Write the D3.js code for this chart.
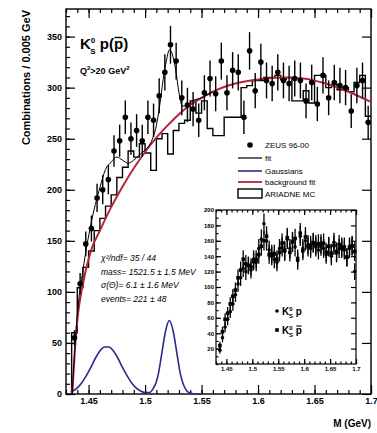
<!DOCTYPE html>
<html>
<head>
<meta charset="utf-8">
<script src="https://cdn.jsdelivr.net/npm/d3@7"></script>
<style>
  body { margin: 0; background: #fff; }
  svg { display: block; font-family: "Liberation Sans", Arial, sans-serif; }
  .axis path, .axis line { stroke: #000; stroke-width: 1.2; }
  .axis text { font-weight: bold; fill: #000; }
</style>
</head>
<body>
<svg width="377" height="433"></svg>
<script>
// bin centres of the 5 MeV mass bins (GeV)
const binCentres = [1.4375, 1.4425, 1.4475, 1.4525, 1.4575, 1.4625, 1.4675, 1.4725, 1.4775, 1.4825,
  1.4875, 1.4925, 1.4975, 1.5025, 1.5075, 1.5125, 1.5175, 1.5225, 1.5275, 1.5325,
  1.5375, 1.5425, 1.5475, 1.5525, 1.5575, 1.5625, 1.5675, 1.5725, 1.5775, 1.5825,
  1.5875, 1.5925, 1.5975, 1.6025, 1.6075, 1.6125, 1.6175, 1.6225, 1.6275, 1.6325,
  1.6375, 1.6425, 1.6475, 1.6525, 1.6575, 1.6625, 1.6675, 1.6725, 1.6775, 1.6825,
  1.6875, 1.6925, 1.6975];

// ZEUS data, combinations per bin
const zeusCounts = [55, 108, 147, 162, 192, 200, 210, 238, 248, 271,
  250, 258, 248, 271, 268, 292, 315, 342, 326, 290,
  283, 279, 268, 295, 309, 294, 326, 295, 317, 315,
  271, 336, 297, 325, 307, 304, 315, 307, 304, 309,
  307, 287, 305, 284, 312, 290, 305, 302, 300, 277,
  302, 307, 266];

// ARIADNE MC histogram (normalised)
const mcCounts = [60, 104, 124, 140, 160, 172, 184, 195, 212, 222,
  238, 232, 245, 236, 219, 250, 255, 235, 258, 265,
  268, 287, 275, 287, 260, 253, 253, 271, 271, 271,
  300, 302, 307, 307, 310, 310, 312, 308, 310, 287,
  287, 297, 285, 312, 312, 300, 303, 298, 300, 296,
  305, 312, 272];

// background curve
const bkgMass = [1.4355, 1.438, 1.440, 1.445, 1.452, 1.460, 1.470, 1.480, 1.490, 1.500, 1.510,
  1.520, 1.530, 1.540, 1.550, 1.560, 1.580, 1.600, 1.620, 1.640, 1.660, 1.680, 1.700];
const bkgValues = [0, 45, 72, 108, 140, 160, 183, 203, 221, 237, 251,
  263, 274, 283, 290, 296, 304, 308, 310, 309, 304, 296, 286];

// two gaussians (blue)
const gausMass = [1.434, 1.436, 1.440, 1.444, 1.448, 1.452, 1.456, 1.460, 1.464, 1.468, 1.472,
  1.476, 1.480, 1.484, 1.488, 1.492, 1.496, 1.500, 1.504, 1.507, 1.510, 1.512, 1.515,
  1.518, 1.5215, 1.525, 1.528, 1.531, 1.534, 1.537, 1.540, 1.545, 1.550];
const gausValues = [2, 3, 6, 11, 18, 26, 35, 42, 46, 46, 42,
  35, 26, 18, 11, 6, 3, 1.5, 1.5, 5, 12, 21, 41,
  61, 72, 61, 41, 21, 9, 3, 1, 0, 0];

// full fit = background + gaussians
const fitMass = [1.4355, 1.438, 1.440, 1.445, 1.452, 1.460, 1.465, 1.470, 1.475, 1.480, 1.485,
  1.490, 1.495, 1.500, 1.505, 1.510, 1.513, 1.516, 1.519, 1.5215, 1.524, 1.527, 1.530,
  1.533, 1.537, 1.542, 1.550, 1.560];
const fitValues = [0, 48, 78, 121, 166, 202, 220, 227, 232, 229, 226,
  229, 234, 239, 246, 263, 283, 308, 327, 337, 333, 318, 295,
  282, 282, 287, 290, 296];

// inset: K0s p and K0s pbar separately
const insetP = [18, 34, 48, 58, 68, 78, 90, 104, 112, 124,
  120, 128, 122, 136, 132, 150, 162, 182, 160, 148,
  140, 136, 132, 150, 152, 146, 162, 150, 158, 152,
  134, 166, 150, 160, 155, 150, 158, 152, 148, 156,
  150, 142, 152, 140, 158, 144, 150, 152, 148, 138,
  150, 154, 120];
const insetPbar = [24, 42, 58, 66, 78, 88, 96, 112, 122, 136,
  130, 128, 126, 133, 136, 142, 153, 160, 166, 142,
  143, 143, 136, 145, 157, 148, 164, 145, 159, 163,
  137, 170, 147, 165, 152, 154, 157, 155, 156, 153,
  157, 145, 153, 144, 154, 146, 155, 150, 152, 139,
  152, 153, 146];

// tick values and labels
const xMajor = [1.45, 1.5, 1.55, 1.6, 1.65, 1.7];
const xTickLabels = ['1.45', '1.5', '1.55', '1.6', '1.65', '1.7'];
const yMajor = [0, 50, 100, 150, 200, 250, 300, 350];
const insetYMajor = [20, 40, 60, 80, 100, 120, 140, 160, 180, 200];

const annotation = ['\u03c7\u00b2/ndf= 35 / 44', 'mass= 1521.5 \u00b1 1.5 MeV',
  '\u03c3(\u0398)= 6.1 \u00b1 1.6 MeV', 'events= 221 \u00b1 48'];

const svg = d3.select('svg'),
    frame = { left: 66, right: 371, top: 9, bottom: 394 };

// main scales
const x = d3.scaleLinear().domain([1.43, 1.7]).range([frame.left, frame.right]);
const y = d3.scaleLinear().domain([0, 377]).range([frame.bottom, frame.top]);

const xMinor = d3.range(1.43, 1.7001, 0.01).map(d => +d.toFixed(3));
const yMinor = d3.range(0, 377, 10);

// axes, ticks inward
function drawAxes(g, xs, ys, fr, opt) {
  g.append('rect')
    .attr('x', fr.left).attr('y', fr.top)
    .attr('width', fr.right - fr.left).attr('height', fr.bottom - fr.top)
    .attr('fill', 'none').attr('stroke', '#000').attr('stroke-width', opt.frameW);

  // bottom
  g.append('g').attr('class', 'axis')
    .attr('transform', 'translate(0,' + fr.bottom + ')')
    .call(d3.axisBottom(xs).tickValues(opt.xMinor).tickSize(-opt.minorLen).tickFormat(''))
    .call(a => a.select('.domain').remove());
  g.append('g').attr('class', 'axis')
    .attr('transform', 'translate(0,' + fr.bottom + ')')
    .call(d3.axisBottom(xs).tickValues(opt.xMajor).tickSize(-opt.majorLen).tickPadding(opt.xPad)
      .tickFormat((d, i) => opt.xLabels[i]))
    .call(a => a.select('.domain').remove())
    .selectAll('text').attr('font-size', opt.font);
  // top
  g.append('g').attr('class', 'axis')
    .attr('transform', 'translate(0,' + fr.top + ')')
    .call(d3.axisTop(xs).tickValues(opt.xMinor).tickSize(-opt.minorLen).tickFormat(''))
    .call(a => a.select('.domain').remove());
  g.append('g').attr('class', 'axis')
    .attr('transform', 'translate(0,' + fr.top + ')')
    .call(d3.axisTop(xs).tickValues(opt.xMajor).tickSize(-opt.majorLen).tickFormat(''))
    .call(a => a.select('.domain').remove());
  // left
  g.append('g').attr('class', 'axis')
    .attr('transform', 'translate(' + fr.left + ',0)')
    .call(d3.axisLeft(ys).tickValues(opt.yMinor).tickSize(-opt.minorLen).tickFormat(''))
    .call(a => a.select('.domain').remove());
  g.append('g').attr('class', 'axis')
    .attr('transform', 'translate(' + fr.left + ',0)')
    .call(d3.axisLeft(ys).tickValues(opt.yMajor).tickSize(-opt.majorLen).tickPadding(opt.yPad))
    .call(a => a.select('.domain').remove())
    .selectAll('text').attr('font-size', opt.font);
  // right
  g.append('g').attr('class', 'axis')
    .attr('transform', 'translate(' + fr.right + ',0)')
    .call(d3.axisRight(ys).tickValues(opt.yMajor).tickSize(-opt.majorLen).tickFormat(''))
    .call(a => a.select('.domain').remove());
}

// bar over one character of a text element (for p-bar)
function overbar(textSel, charIndex, lift, width) {
  const node = textSel.node();
  const s = node.getStartPositionOfChar(charIndex);
  const e = node.getEndPositionOfChar(charIndex);
  d3.select(node.parentNode).append('line')
    .attr('x1', s.x + 0.5).attr('x2', e.x - 0.5)
    .attr('y1', s.y - lift).attr('y2', s.y - lift)
    .attr('stroke', '#000').attr('stroke-width', width);
}

const main = svg.append('g');
drawAxes(main, x, y, frame, {
  frameW: 1.4, xMinor: xMinor, xMajor: xMajor, xLabels: xTickLabels,
  yMinor: yMinor, yMajor: yMajor, minorLen: 4, majorLen: 9, font: 9, xPad: 4, yPad: 4
});

// ARIADNE histogram, step shape
const histPts = [[1.435, 0]];
binCentres.forEach((c, i) => {
  histPts.push([c - 0.0025, mcCounts[i]]);
  histPts.push([c + 0.0025, mcCounts[i]]);
});
main.append('path')
  .datum(histPts)
  .attr('fill', 'none').attr('stroke', '#000').attr('stroke-width', 1.4)
  .attr('d', d3.line().x(d => x(d[0])).y(d => y(d[1])).curve(d3.curveStepBefore));

// gaussians
main.append('path')
  .datum(gausMass.map((m, i) => [m, gausValues[i]]))
  .attr('fill', 'none').attr('stroke', '#2b2b8c').attr('stroke-width', 1.6)
  .attr('d', d3.line().x(d => x(d[0])).y(d => y(d[1])).curve(d3.curveMonotoneX));

// background
main.append('path')
  .datum(bkgMass.map((m, i) => [m, bkgValues[i]]))
  .attr('fill', 'none').attr('stroke', '#b3263a').attr('stroke-width', 2)
  .attr('d', d3.line().x(d => x(d[0])).y(d => y(d[1])).curve(d3.curveMonotoneX));

// full fit
main.append('path')
  .datum(fitMass.map((m, i) => [m, fitValues[i]]))
  .attr('fill', 'none').attr('stroke', '#000').attr('stroke-width', 1)
  .attr('d', d3.line().x(d => x(d[0])).y(d => y(d[1])).curve(d3.curveMonotoneX));

// data points with error bars
const pts = main.selectAll('.pt')
  .data(binCentres.map((c, i) => ({ m: c, v: zeusCounts[i] })))
  .enter().append('g').attr('class', 'pt');
pts.append('line')
  .attr('x1', d => x(d.m)).attr('x2', d => x(d.m))
  .attr('y1', d => y(d.v + Math.sqrt(d.v))).attr('y2', d => y(Math.max(0, d.v - Math.sqrt(d.v))))
  .attr('stroke', '#000').attr('stroke-width', 1.4);
pts.append('circle')
  .attr('cx', d => x(d.m)).attr('cy', d => y(d.v)).attr('r', 2.8)
  .attr('fill', '#000');

// axis titles
svg.append('text')
  .attr('transform', 'translate(30,10) rotate(-90)')
  .attr('text-anchor', 'end')
  .attr('font-size', 11).attr('font-weight', 'bold')
  .text('Combinations / 0.005 GeV');
svg.append('text')
  .attr('x', 371).attr('y', 427).attr('text-anchor', 'end')
  .attr('font-size', 10).attr('font-weight', 'bold')
  .text('M (GeV)');

// process label
const lab = svg.append('text').attr('x', 80).attr('y', 49)
  .attr('font-size', 15).attr('font-weight', 'bold');
lab.append('tspan').text('K');
lab.append('tspan').attr('font-size', 8).attr('dy', -6).text('0');
lab.append('tspan').attr('font-size', 8).attr('dx', -5).attr('dy', 11).text('S');
lab.append('tspan').attr('dy', -5).text(' p(p)');
overbar(lab, 6, 11.5, 1.4);

const q2 = svg.append('text').attr('x', 80).attr('y', 74)
  .attr('font-size', 9).attr('font-weight', 'bold');
q2.append('tspan').text('Q');
q2.append('tspan').attr('font-size', 6).attr('dy', -4).text('2');
q2.append('tspan').attr('dy', 4).text('>20 GeV');
q2.append('tspan').attr('font-size', 6).attr('dy', -4).text('2');

// fit result text
svg.selectAll('.ann')
  .data(annotation)
  .enter().append('text')
  .attr('x', 101).attr('y', (d, i) => 261 + i * 13.5)
  .attr('font-size', 8.5).attr('font-style', 'italic')
  .text(d => d);

// legend
const leg = svg.append('g').attr('font-size', 8);
leg.append('circle').attr('cx', 250).attr('cy', 145).attr('r', 2.8).attr('fill', '#000');
leg.append('text').attr('x', 265).attr('y', 148).text('ZEUS 96-00');
leg.append('line').attr('x1', 238).attr('x2', 262).attr('y1', 158).attr('y2', 158)
  .attr('stroke', '#000').attr('stroke-width', 1.2);
leg.append('text').attr('x', 265).attr('y', 161).text('fit');
leg.append('line').attr('x1', 238).attr('x2', 262).attr('y1', 171).attr('y2', 171)
  .attr('stroke', '#2b2b8c').attr('stroke-width', 1.6);
leg.append('text').attr('x', 265).attr('y', 174).text('Gaussians');
leg.append('line').attr('x1', 238).attr('x2', 262).attr('y1', 182).attr('y2', 182)
  .attr('stroke', '#b3263a').attr('stroke-width', 1.8);
leg.append('text').attr('x', 265).attr('y', 185).text('background fit');
leg.append('rect').attr('x', 238).attr('y', 189).attr('width', 24).attr('height', 9)
  .attr('fill', '#fff').attr('stroke', '#000').attr('stroke-width', 1.4);
leg.append('text').attr('x', 265).attr('y', 197).text('ARIADNE MC');

// inset
const ifr = { left: 216, right: 356, top: 210, bottom: 364 };
const xi = d3.scaleLinear().domain([1.43, 1.7]).range([ifr.left, ifr.right]);
const yi = d3.scaleLinear().domain([0, 200]).range([ifr.bottom, ifr.top]);
const inset = svg.append('g');
inset.append('rect').attr('x', ifr.left - 14).attr('y', ifr.top - 4)
  .attr('width', ifr.right - ifr.left + 18).attr('height', ifr.bottom - ifr.top + 20)
  .attr('fill', '#fff');
drawAxes(inset, xi, yi, ifr, {
  frameW: 1.2, xMinor: xMinor, xMajor: xMajor, xLabels: xTickLabels,
  yMinor: d3.range(0, 200, 10), yMajor: insetYMajor, minorLen: 2.5, majorLen: 5, font: 6, xPad: 3, yPad: 2
});

[insetPbar, insetP].forEach((series, s) => {
  const g = inset.append('g');
  binCentres.forEach((c, i) => {
    const v = series[i], e = Math.sqrt(v);
    g.append('line')
      .attr('x1', xi(c)).attr('x2', xi(c))
      .attr('y1', yi(v + e)).attr('y2', yi(Math.max(0, v - e)))
      .attr('stroke', '#000').attr('stroke-width', 1.3);
    if (s === 1) {
      g.append('circle').attr('cx', xi(c)).attr('cy', yi(v)).attr('r', 1.8).attr('fill', '#000');
    } else {
      g.append('rect').attr('x', xi(c) - 1.8).attr('y', yi(v) - 1.8)
        .attr('width', 3.6).attr('height', 3.6).attr('fill', '#000');
    }
  });
});

// inset legend
const il = svg.append('g').attr('font-size', 10).attr('font-weight', 'bold');
il.append('circle').attr('cx', 277).attr('cy', 311).attr('r', 1.8).attr('fill', '#000');
const t1 = il.append('text').attr('x', 282).attr('y', 315);
t1.append('tspan').text('K');
t1.append('tspan').attr('font-size', 6).attr('dy', -4).text('0');
t1.append('tspan').attr('font-size', 6).attr('dx', -3.5).attr('dy', 7).text('S');
t1.append('tspan').attr('dy', -3).text(' p');
il.append('rect').attr('x', 275.2).attr('y', 328.2).attr('width', 3.6).attr('height', 3.6).attr('fill', '#000');
const t2 = il.append('text').attr('x', 282).attr('y', 334);
t2.append('tspan').text('K');
t2.append('tspan').attr('font-size', 6).attr('dy', -4).text('0');
t2.append('tspan').attr('font-size', 6).attr('dx', -3.5).attr('dy', 7).text('S');
t2.append('tspan').attr('dy', -3).text(' p');
overbar(t2, 4, 8, 1.1);
</script>
</body>
</html>
